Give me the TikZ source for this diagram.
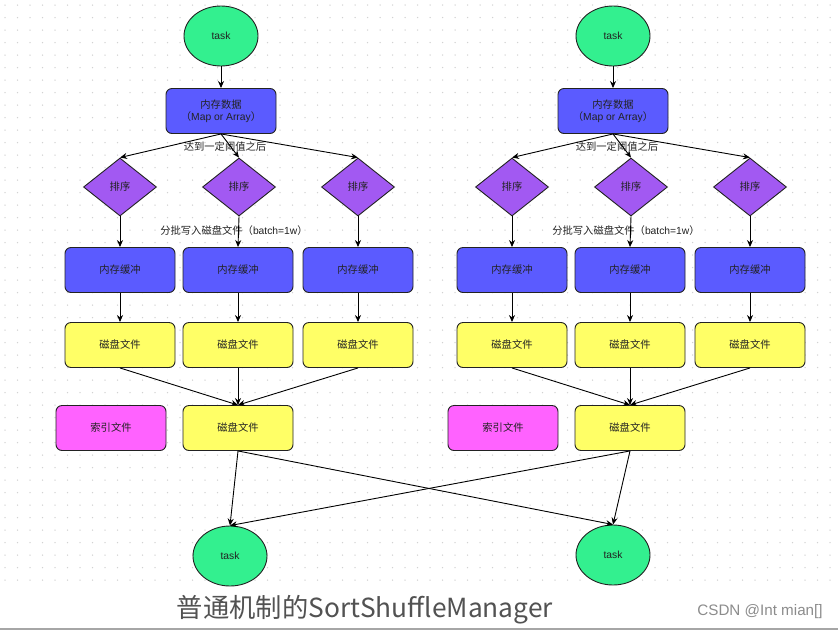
\documentclass[tikz,border=0pt]{standalone}
\usepackage{fontspec}
\setmainfont{Liberation Sans}
\newfontfamily\cjk{Noto Sans CJK SC}
\usetikzlibrary{shapes.geometric,arrows.meta}
\definecolor{taskgreen}{HTML}{33F08F}
\definecolor{memblue}{HTML}{5B5BFF}
\definecolor{sortpurple}{HTML}{A259F2}
\definecolor{fileyellow}{HTML}{FFFF66}
\definecolor{idxpink}{HTML}{FF62FF}
\definecolor{edge}{HTML}{222222}
\definecolor{griddot}{HTML}{D2D2D2}
\tikzset{
  base/.style={draw=edge, line width=0.9pt, text=edge, font=\fontsize{10.3}{12.5}\selectfont, inner sep=0pt, align=center},
  tasknode/.style={base, ellipse, fill=taskgreen, minimum width=74pt, minimum height=60pt},
  membox/.style={base, rectangle, rounded corners=6pt, fill=memblue, minimum width=110pt, minimum height=45pt},
  filebox/.style={base, rectangle, rounded corners=6pt, fill=fileyellow, minimum width=110pt, minimum height=45pt},
  idxbox/.style={base, rectangle, rounded corners=6pt, fill=idxpink, minimum width=110pt, minimum height=45pt},
  sortnode/.style={base, diamond, fill=sortpurple, minimum width=73pt, minimum height=58pt, aspect=1.26},
  flow/.style={draw=black, line width=0.9pt, -{Stealth[length=7pt,width=6pt]}},
  note/.style={font=\fontsize{10.3}{12.5}\selectfont, text=edge, inner sep=1pt}
}
\begin{document}
\begin{tikzpicture}[x=1pt, y=-1pt]
\useasboundingbox (0,0) rectangle (838,630);
\fill[white] (0,0) rectangle (838,630);
% dotted canvas
\foreach \gx in {5,17.5,...,835} {
  \foreach \gy in {5,17.5,...,580} {
    \fill[griddot] (\gx,\gy) circle (0.75pt);
  }
}
% bottom rule
\draw[gray!70, line width=1.5pt] (0,629) -- (838,629);

% two identical map-side pipelines
\foreach \side/\dx in {L/0, R/392} {
  \node[tasknode] (task\side) at (221+\dx,36) {task};
  \node[membox] (mem\side) at (221+\dx,111) {{\cjk 内存数据}\\{\cjk （}Map or Array{\cjk ）}};
  \node[sortnode] (sortA\side) at (120+\dx,187) {\cjk 排序};
  \node[sortnode] (sortB\side) at (239+\dx,187) {\cjk 排序};
  \node[sortnode] (sortC\side) at (358+\dx,187) {\cjk 排序};
  \node[membox] (bufA\side) at (120+\dx,270) {\cjk 内存缓冲};
  \node[membox] (bufB\side) at (238+\dx,270) {\cjk 内存缓冲};
  \node[membox] (bufC\side) at (358+\dx,270) {\cjk 内存缓冲};
  \node[filebox] (fileA\side) at (120+\dx,345) {\cjk 磁盘文件};
  \node[filebox] (fileB\side) at (238+\dx,345) {\cjk 磁盘文件};
  \node[filebox] (fileC\side) at (358+\dx,345) {\cjk 磁盘文件};
  \node[filebox] (merged\side) at (238+\dx,428) {\cjk 磁盘文件};
  \node[idxbox] (index\side) at (111+\dx,428) {\cjk 索引文件};
  \node[note] (spill\side) at (225+\dx,147) {\cjk 达到一定阈值之后};
  \node[note] (batch\side) at (234+\dx,231) {{\cjk 分批写入磁盘文件（}batch=1w{\cjk ）}};

  \draw[flow] (task\side) -- (mem\side);
  \draw[flow] (mem\side.south) -- (sortA\side.north);
  \draw[flow] (mem\side.south) -- (sortB\side.north);
  \draw[flow] (mem\side.south) -- (sortC\side.north);
  \draw[flow] (sortA\side.south) -- (bufA\side.north);
  \draw[flow] (sortB\side.south) -- (bufB\side.north);
  \draw[flow] (sortC\side.south) -- (bufC\side.north);
  \draw[flow] (bufA\side) -- (fileA\side);
  \draw[flow] (bufB\side) -- (fileB\side);
  \draw[flow] (bufC\side) -- (fileC\side);
  \draw[flow] (fileA\side.south) -- (merged\side.north);
  \draw[flow] (fileB\side.south) -- (merged\side.north);
  \draw[flow] (fileC\side.south) -- (merged\side.north);
}

% reduce-side tasks
\node[tasknode] (outL) at (230,556) {task};
\node[tasknode] (outR) at (613,555) {task};
\draw[flow] (mergedL.south) -- (outL.north);
\draw[flow] (mergedL.south) -- (outR.north);
\draw[flow] (mergedR.south) -- (outL.north);
\draw[flow] (mergedR.south) -- (outR.north);

% caption and credit
\node[font=\cjk\fontsize{26.3}{29}\selectfont, text=black!68, inner sep=0pt] (caption) at (365,610) {普通机制的SortShuffleManager};
\node[font=\fontsize{15.2}{17}\selectfont, text=black!45, inner sep=0pt] (credit) at (760,612) {CSDN @Int mian[]};
\end{tikzpicture}
\end{document}
